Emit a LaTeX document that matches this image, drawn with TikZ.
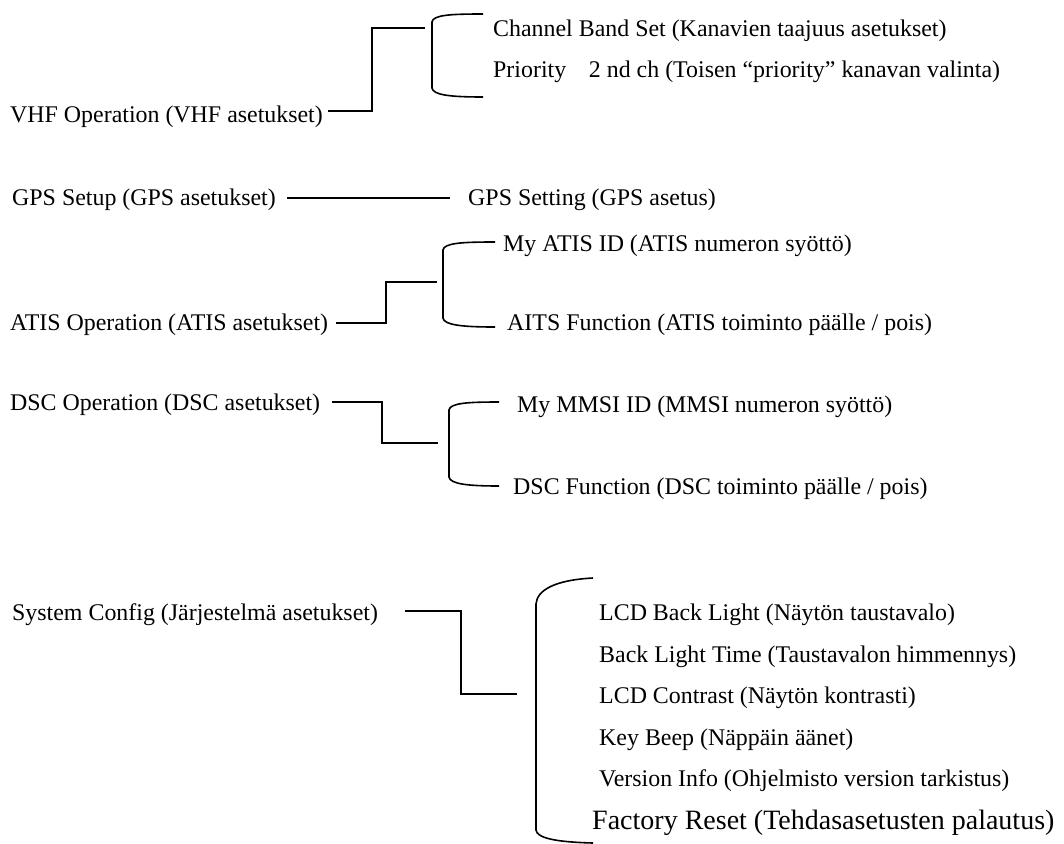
\documentclass[tikz,border=0pt]{standalone}
\usepackage{fontspec}
\setmainfont{Liberation Serif}
\begin{document}
\begin{tikzpicture}[x=1pt,y=-1pt,
  lbl/.style={anchor=base west,inner sep=0pt,font=\fontsize{23.9}{28}\selectfont},
  big/.style={anchor=base west,inner sep=0pt,font=\fontsize{28}{32}\selectfont},
  conn/.style={line width=1.6pt,line join=miter},
  brk/.style={line width=1.6pt}]
\useasboundingbox (0,0) rectangle (1064,843);
% VHF
\node[lbl] (vhf) at (10,122) {VHF Operation (VHF asetukset)};
\node[lbl] (ch1) at (493,37) {Channel Band Set (Kanavien taajuus asetukset)};
\node[lbl] (ch2) at (493,77) {Priority\hspace{0.95em}2 nd ch (Toisen “priority” kanavan valinta)};
\coordinate (vhfA) at (328,111);
\coordinate (vhfB) at (425,28);
\draw[conn] (vhfA) -- (372,111) -- (372,28) -- (vhfB);
\draw[brk] (483,14) .. controls (450,14) and (433,15) .. (432,22) -- (432,88) .. controls (433,95) and (450,97) .. (483,97);
% GPS
\node[lbl] (gps) at (12,205) {GPS Setup (GPS asetukset)};
\node[lbl] (gpss) at (468,205) {GPS Setting (GPS asetus)};
\coordinate (gpsA) at (287,198);
\coordinate (gpsB) at (450,198);
\draw[conn] (gpsA) -- (gpsB);
% ATIS
\node[lbl] (atis) at (10,330) {ATIS Operation (ATIS asetukset)};
\node[lbl] (atis1) at (503,251) {My ATIS ID (ATIS numeron syöttö)};
\node[lbl] (atis2) at (507,330) {AITS Function (ATIS toiminto päälle / pois)};
\coordinate (atisA) at (336,323);
\coordinate (atisB) at (437,282);
\draw[conn] (atisA) -- (386,323) -- (386,282) -- (atisB);
\draw[brk] (495,242) .. controls (462,242) and (444,243) .. (443,250) -- (443,318) .. controls (444,325) and (462,327) .. (495,327);
% DSC
\node[lbl] (dsc) at (10,410) {DSC Operation (DSC asetukset)};
\node[lbl] (dsc1) at (517,412) {My MMSI ID (MMSI numeron syöttö)};
\node[lbl] (dsc2) at (513,494) {DSC Function (DSC toiminto päälle / pois)};
\coordinate (dscA) at (332,402);
\coordinate (dscB) at (438,443);
\draw[conn] (dscA) -- (382,402) -- (382,443) -- (dscB);
\draw[brk] (499,402) .. controls (468,402) and (450,403) .. (449,410) -- (449,477) .. controls (450,484) and (468,486) .. (499,486);
% System
\node[lbl] (sys) at (12,620) {System Config (Järjestelmä asetukset)};
\node[lbl] (s1) at (599,620) {LCD Back Light (Näytön taustavalo)};
\node[lbl] (s2) at (599,662) {Back Light Time (Taustavalon himmennys)};
\node[lbl] (s3) at (599,703) {LCD Contrast (Näytön kontrasti)};
\node[lbl] (s4) at (599,745) {Key Beep (Näppäin äänet)};
\node[lbl] (s5) at (599,786) {Version Info (Ohjelmisto version tarkistus)};
\node[big] (s6) at (592,829) {Factory Reset (Tehdasasetusten palautus)};
\coordinate (sysA) at (405,611);
\coordinate (sysB) at (517,694);
\draw[conn] (sysA) -- (461,611) -- (461,694) -- (sysB);
\draw[brk] (593,578) .. controls (555,580) and (537,590) .. (536,604) -- (536,830) .. controls (537,838) and (555,842) .. (593,843);
\end{tikzpicture}
\end{document}
